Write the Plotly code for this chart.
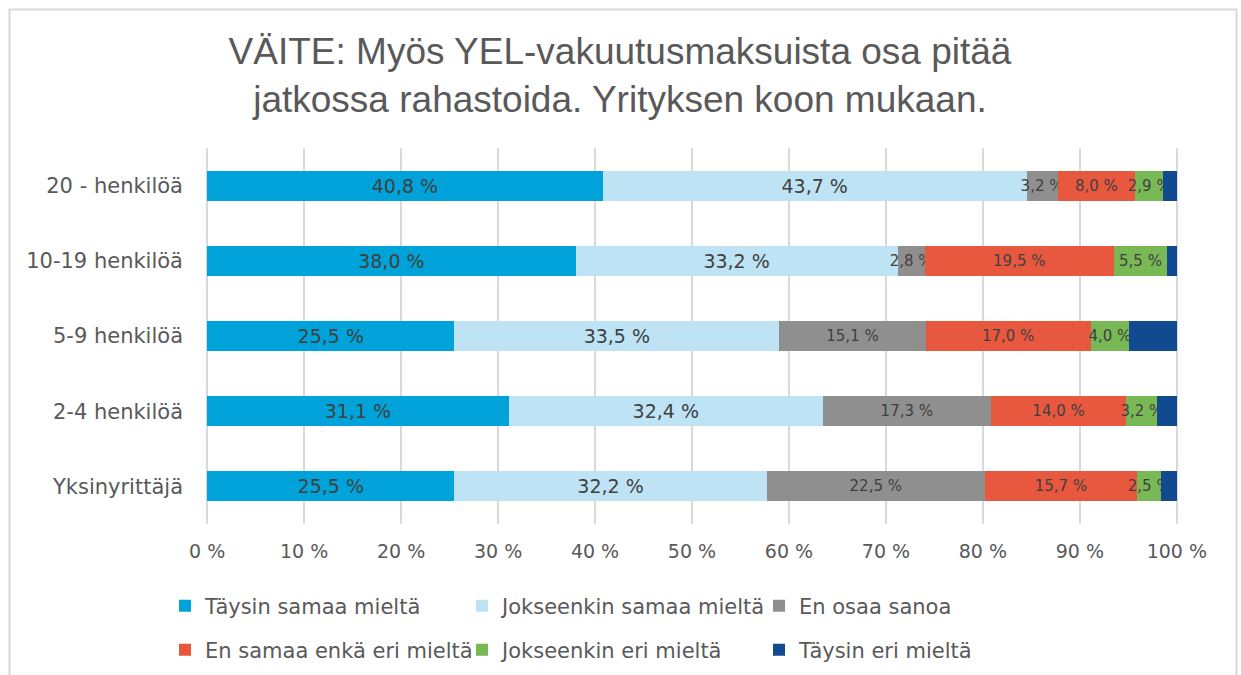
import plotly.graph_objects as go

# Company size groups, listed top to bottom
groups = ["20 - henkilöä", "10-19 henkilöä", "5-9 henkilöä", "2-4 henkilöä", "Yksinyrittäjä"]

# Answer shares (%) per group
taysin_samaa = [40.8, 38.0, 25.5, 31.1, 25.5]
jokseenkin_samaa = [43.7, 33.2, 33.5, 32.4, 32.2]
en_osaa = [3.2, 2.8, 15.1, 17.3, 22.5]
en_samaa_enka_eri = [8.0, 19.5, 17.0, 14.0, 15.7]
jokseenkin_eri = [2.9, 5.5, 4.0, 3.2, 2.5]
taysin_eri = [1.4, 1.0, 4.9, 2.0, 1.6]

series = [
    ("Täysin samaa mieltä", taysin_samaa, "#00A3D9", 19, True, "legend"),
    ("Jokseenkin samaa mieltä", jokseenkin_samaa, "#BEE3F5", 19, True, "legend"),
    ("En osaa sanoa", en_osaa, "#8F8F8F", 15, True, "legend"),
    ("En samaa enkä eri mieltä", en_samaa_enka_eri, "#E8583F", 15, True, "legend2"),
    ("Jokseenkin eri mieltä", jokseenkin_eri, "#79B955", 15, True, "legend2"),
    ("Täysin eri mieltä", taysin_eri, "#124A91", 15, False, "legend2"),
]

W, H = 1241, 675
ML, MR, MT, MB = 206, 63, 148, 151

fig = go.Figure()
for name, vals, color, fsize, labelled, leg in series:
    fig.add_trace(go.Bar(
        name=name,
        y=groups,
        x=vals,
        orientation="h",
        marker=dict(color=color, line=dict(width=0)),
        texttemplate="%{x:.1f} %" if labelled else "",
        textposition="inside",
        insidetextanchor="middle",
        textangle=0,
        constraintext="none",
        textfont=dict(family="DejaVu Sans", size=fsize, color="#404040"),
        legend=leg,
    ))

# light frame around the whole chart area
pw = W - ML - MR
ph = H - MT - MB
def px_x(v):
    return (v - ML) / pw
def px_y(v):
    return (H - MB - v) / ph

fig.add_shape(type="rect", xref="paper", yref="paper",
              x0=px_x(9.5), x1=px_x(1236.5), y0=px_y(690), y1=px_y(9.5),
              line=dict(color="#D9D9D9", width=2), fillcolor="rgba(0,0,0,0)",
              layer="below")

legend_common = dict(
    orientation="h",
    xref="container", yref="container",
    xanchor="left", yanchor="middle",
    font=dict(family="DejaVu Sans", size=21, color="#595959"),
    bgcolor="rgba(0,0,0,0)",
    entrywidth=252, entrywidthmode="pixels",
    traceorder="normal",
    itemclick=False, itemdoubleclick=False,
)

fig.update_layout(
    width=W, height=H,
    margin=dict(l=ML, r=MR, t=MT, b=MB, pad=0),
    paper_bgcolor="white", plot_bgcolor="white",
    barmode="stack",
    bargap=0.6,
    separators=", ",
    title=dict(
        text="VÄITE: Myös YEL-vakuutusmaksuista osa pitää<br>jatkossa rahastoida. Yrityksen koon mukaan.",
        x=620 / W, xanchor="center", xref="container",
        y=1 - 64 / H, yanchor="middle", yref="container",
        font=dict(family="Liberation Sans", size=37, color="#595959"),
    ),
    xaxis=dict(
        range=[-0.12, 100.12], tick0=0, dtick=10, ticksuffix=" %",
        showgrid=True, gridcolor="#D9D9D9", gridwidth=2,
        zeroline=False, showline=False,
        tickfont=dict(family="DejaVu Sans", size=19, color="#595959"),
        ticks="", ticklabelstandoff=14,
        fixedrange=True,
    ),
    yaxis=dict(
        autorange="reversed",
        showgrid=False, zeroline=False, showline=False,
        tickfont=dict(family="DejaVu Sans", size=21, color="#595959"),
        ticks="", ticklabelstandoff=22,
        fixedrange=True,
    ),
    legend=dict(legend_common, x=165 / W, y=1 - 606 / H),
    legend2=dict(legend_common, x=165 / W, y=1 - 650 / H),
    showlegend=True,
)

fig.write_html("out.html")
